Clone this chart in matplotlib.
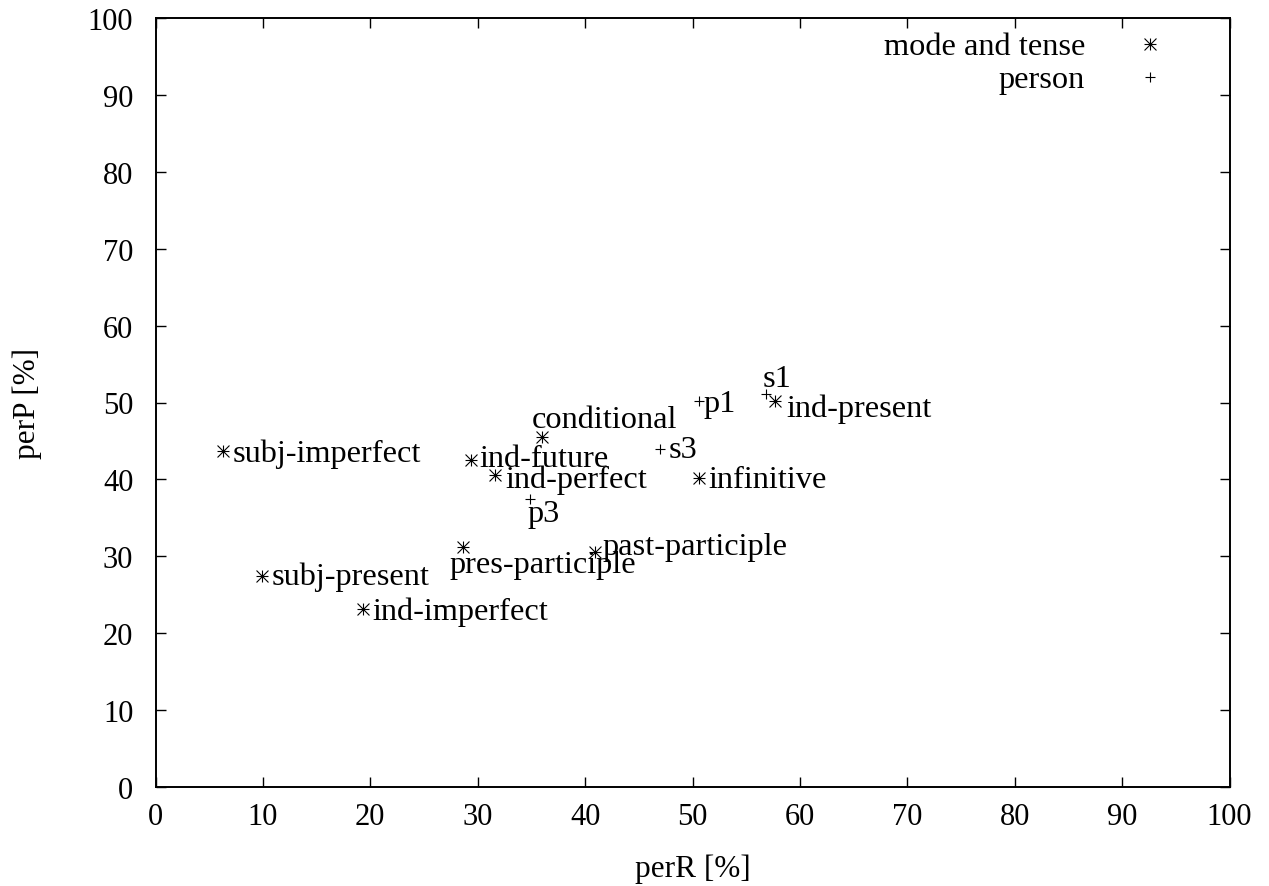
import matplotlib
matplotlib.use("Agg")
import matplotlib.pyplot as plt
from matplotlib.path import Path

# ---- data ----
mt_labels = ["subj-imperfect", "ind-future", "ind-perfect", "conditional",
             "pres-participle", "past-participle", "subj-present",
             "ind-imperfect", "infinitive", "ind-present"]
mt_perR = [6.3, 29.4, 31.6, 36.0, 28.6, 40.9, 9.9, 19.3, 50.6, 57.7]
mt_perP = [43.7, 42.5, 40.6, 45.5, 31.2, 30.6, 27.5, 23.1, 40.2, 50.2]

pe_labels = ["p3", "s3", "p1", "s1"]
pe_perR = [34.9, 47.0, 50.6, 56.8]
pe_perP = [37.5, 44.0, 50.2, 51.1]

ticks = [0, 10, 20, 30, 40, 50, 60, 70, 80, 90, 100]

# label offsets in pixels (dx, dy up) relative to each point (style only)
mt_off = [(9, -10), (8, -6), (10, -12), (-10, 10), (-13, -25), (8, -2),
          (10, -8), (10, -10), (9, -9), (11, -15)]
pe_off = [(-3, -22), (8, -8), (5, -10), (-3, 8)]

FONT = "Liberation Serif"
FS = 22
FSL = 23.3
plt.rcParams['font.family'] = [FONT, 'DejaVu Serif']

star = Path([(-1, 0), (1, 0), (0, -1), (0, 1), (-1, -1), (1, 1), (-1, 1), (1, -1)],
            [Path.MOVETO, Path.LINETO] * 4)
plus = Path([(-1, 0), (1, 0), (0, -1), (0, 1)], [Path.MOVETO, Path.LINETO] * 2)

fig = plt.figure(figsize=(12.69, 8.87), dpi=100)
ax = fig.add_axes([155.5 / 1269, 99 / 887, 1074 / 1269, 769 / 887])

ax.plot(mt_perR, mt_perP, linestyle='none', marker=star, markersize=8.6,
        markerfacecolor='none', markeredgecolor='black', markeredgewidth=0.8)
ax.plot(pe_perR, pe_perP, linestyle='none', marker=plus, markersize=6.5,
        markerfacecolor='none', markeredgecolor='black', markeredgewidth=0.8)

for lab, x, y, (dx, dy) in zip(mt_labels, mt_perR, mt_perP, mt_off):
    ax.annotate(lab, xy=(x, y), xytext=(dx, dy), textcoords='offset pixels',
                ha='left', va='baseline', fontsize=FSL)
for lab, x, y, (dx, dy) in zip(pe_labels, pe_perR, pe_perP, pe_off):
    ax.annotate(lab, xy=(x, y), xytext=(dx, dy), textcoords='offset pixels',
                ha='left', va='baseline', fontsize=FSL)

ax.set_xlim(0, 100)
ax.set_ylim(0, 100)
ax.set_xticks(ticks)
ax.set_yticks(ticks)
ax.tick_params(direction='in', length=7, width=1.0, top=True, right=True,
               labelsize=FS)
ax.tick_params(axis='x', pad=11)
ax.tick_params(axis='y', pad=16)
for s in ax.spines.values():
    s.set_linewidth(1.4)

ax.set_xlabel("perR [%]", fontsize=22.5, va='baseline')
ax.xaxis.set_label_coords(0.5, -0.116)
ax.set_ylabel("perP [%]", fontsize=22.5, va='center')
ax.yaxis.set_label_coords(-0.119, 0.5)

# key (top right)
key = [("mode and tense", star, 8.6, 0.9662), ("person", plus, 6.5, 0.9229)]
for lab, mk, ms, ky in key:
    ax.plot([0.926], [ky], transform=ax.transAxes, linestyle='none', marker=mk,
            markersize=ms, markerfacecolor='none', markeredgecolor='black',
            markeredgewidth=0.8, clip_on=False)
    ax.annotate(lab, xy=(0.926, ky), xycoords='axes fraction', xytext=(-65, -10),
                textcoords='offset pixels', ha='right', va='baseline', fontsize=FSL)

fig.savefig("out.png", dpi=100)
